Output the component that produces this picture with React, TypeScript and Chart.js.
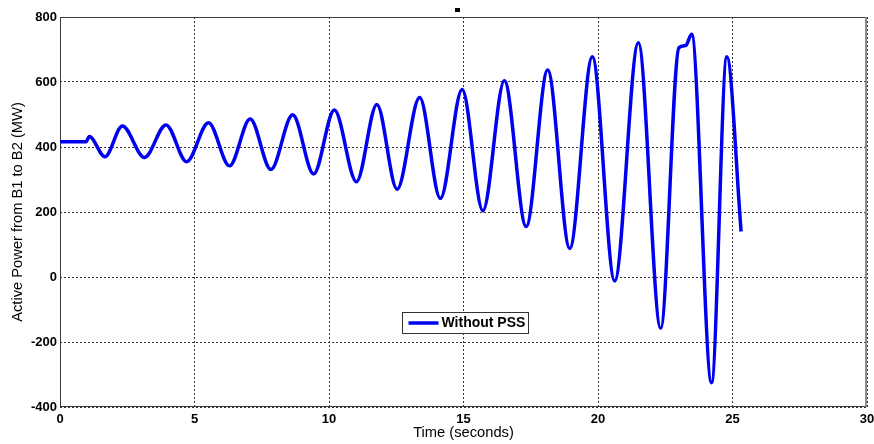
import React, { useEffect, useRef } from "react";
import { Chart, registerables } from "chart.js";

Chart.register(...registerables);

// Time (s) of each extreme / turning point of the trace
const timeSec = [
  0, 0.97, 1.09, 1.67, 2.32, 3.14, 3.94, 4.71, 5.52, 6.3, 7.07, 7.84, 8.65,
  9.43, 10.2, 11.02, 11.78, 12.53, 13.37, 14.14, 14.95, 15.72, 16.52, 17.33,
  18.13, 18.95, 19.79, 20.62, 21.5, 22.33, 23.01, 23.26, 23.48, 24.22, 24.79,
  25.32,
];
// Active power (MW) at those times
const powerMW = [
  416, 416, 432, 370, 465, 368, 468, 355, 475, 342, 486, 331, 499, 317, 514,
  293, 531, 270, 552, 242, 577, 204, 604, 155, 637, 88, 678, -12, 721, -158,
  706, 712, 747, -325, 678, 140,
];
const seriesLabel = "Without PSS";
const xTicks = [0, 5, 10, 15, 20, 25, 30];
const yTicks = [-400, -200, 0, 200, 400, 600, 800];

const LINE_COLOR = "#0000f0";
const FONT = "Arial, 'Liberation Sans', sans-serif";

export default function App() {
  const ref = useRef<HTMLCanvasElement>(null);

  useEffect(() => {
    if (!ref.current) return;
    const data = timeSec.map((t, i) => ({ x: t, y: powerMW[i] }));

    const framePlugin = {
      id: "frame",
      beforeDatasetsDraw(chart: any) {
        const { ctx, chartArea: a } = chart;
        ctx.save();
        ctx.lineWidth = 1;
        ctx.strokeStyle = "#3c3c3c";
        ctx.beginPath();
        ctx.moveTo(a.left + 0.5, a.top + 0.5);
        ctx.lineTo(a.right - 0.5, a.top + 0.5);
        ctx.moveTo(a.left + 0.5, a.top);
        ctx.lineTo(a.left + 0.5, a.bottom - 0.5);
        ctx.lineTo(a.right, a.bottom - 0.5);
        ctx.stroke();
        ctx.strokeStyle = "#8a8a8a";
        ctx.lineWidth = 2;
        ctx.beginPath();
        ctx.moveTo(a.right - 1, a.top);
        ctx.lineTo(a.right - 1, a.bottom);
        ctx.stroke();
        // small title artifact
        ctx.fillStyle = "#000";
        ctx.fillRect(455, 8, 5, 4);
        ctx.restore();
      },
      afterDatasetsDraw(chart: any) {
        const { ctx, scales } = chart;
        const xs = scales.x;
        const ys = scales.y;
        // legend box anchored in data coordinates
        const bx = Math.round(xs.getPixelForValue(12.7)) + 0.5;
        const by = Math.round(ys.getPixelForValue(-107)) + 0.5;
        const bw = 126;
        const bh = 21;
        ctx.save();
        ctx.fillStyle = "#fff";
        ctx.fillRect(bx, by, bw, bh);
        ctx.strokeStyle = "#333";
        ctx.lineWidth = 1;
        ctx.strokeRect(bx, by, bw, bh);
        ctx.strokeStyle = LINE_COLOR;
        ctx.lineWidth = 3.5;
        ctx.beginPath();
        ctx.moveTo(bx + 6, by + 10.5);
        ctx.lineTo(bx + 36, by + 10.5);
        ctx.stroke();
        ctx.fillStyle = "#000";
        ctx.font = "bold 14px " + FONT;
        ctx.textBaseline = "middle";
        ctx.fillText(seriesLabel, bx + 39, by + 11);
        ctx.restore();
      },
    };

    const chart = new Chart(ref.current, {
      type: "line",
      data: {
        datasets: [
          {
            label: seriesLabel,
            data,
            borderColor: LINE_COLOR,
            borderWidth: 3.5,
            pointRadius: 0,
            fill: false,
            cubicInterpolationMode: "monotone",
          },
        ],
      },
      options: {
        animation: false,
        responsive: false,
        maintainAspectRatio: false,
        layout: { padding: { top: 17, right: 7, left: 0, bottom: 0 } },
        plugins: {
          legend: { display: false },
          title: { display: false },
          tooltip: { enabled: false },
        },
        scales: {
          x: {
            type: "linear",
            min: 0,
            max: 30,
            afterBuildTicks: (s: any) => {
              s.ticks = xTicks.map((v) => ({ value: v }));
            },
            afterFit: (s: any) => {
              s.height = 37;
              s.paddingLeft = 0;
              s.paddingRight = 0;
            },
            ticks: {
              color: "#000",
              font: { family: FONT, size: 13, weight: "bold" },
              padding: 5,
              maxRotation: 0,
            },
            grid: {
              color: "#333",
              lineWidth: 1,
              drawTicks: false,
            },
            border: { display: false, dash: [2, 2] },
            title: {
              display: true,
              text: "Time (seconds)",
              color: "#000",
              font: { family: FONT, size: 14.7 },
              padding: { top: 0, bottom: 2 },
            },
          },
          y: {
            type: "linear",
            min: -400,
            max: 800,
            afterBuildTicks: (s: any) => {
              s.ticks = yTicks.map((v) => ({ value: v }));
            },
            afterFit: (s: any) => {
              s.width = 60;
              s.paddingTop = 0;
              s.paddingBottom = 0;
            },
            ticks: {
              color: "#000",
              font: { family: FONT, size: 13, weight: "bold" },
              padding: 3,
            },
            grid: {
              color: "#333",
              lineWidth: 1,
              drawTicks: false,
            },
            border: { display: false, dash: [2, 2] },
            title: {
              display: true,
              text: "Active Power from B1 to B2 (MW)",
              color: "#000",
              font: { family: FONT, size: 14.7 },
              padding: { top: 9, bottom: 0 },
            },
          },
        },
      },
      plugins: [framePlugin],
    } as any);

    return () => chart.destroy();
  }, []);

  return (
    <div style={{ position: "fixed", left: 0, top: 0, width: 874, height: 444, background: "#fff" }}>
      <canvas ref={ref} width={874} height={444} style={{ display: "block", width: 874, height: 444 }} />
    </div>
  );
}
